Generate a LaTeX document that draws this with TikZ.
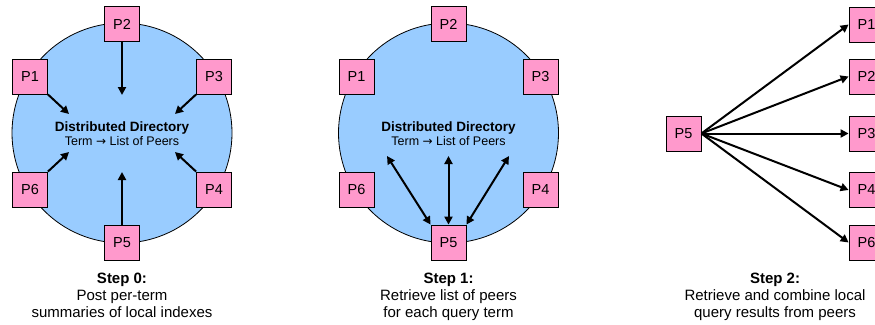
\documentclass[tikz,border=0pt]{standalone}
\usepackage{fontspec}
\setmainfont{Liberation Sans}
\newfontfamily\arrowfont{DejaVu Sans}
\usetikzlibrary{arrows.meta}
\definecolor{peerpink}{HTML}{FF99CC}
\definecolor{dirblue}{HTML}{99CCFF}
\newcommand{\maparrow}{{\arrowfont\fontsize{12}{14}\selectfont →}}
\tikzset{
  peer/.style={draw=black, fill=peerpink, minimum size=35pt, inner sep=0pt, line width=0.8pt,
    font=\fontsize{14.5}{16}\selectfont},
  directory/.style={draw=black, fill=dirblue, line width=0.8pt},
  post/.style={line width=2pt, -{Triangle[length=8pt,width=8pt]}},
  query/.style={line width=2pt, {Triangle[length=8pt,width=8pt]}-{Triangle[length=8pt,width=8pt]}},
  caption/.style={anchor=base, inner sep=0pt, font=\fontsize{15}{17}\selectfont},
  dirtitle/.style={anchor=base, inner sep=0pt, font=\fontsize{13.5}{15}\selectfont\bfseries},
  dirsub/.style={anchor=base, inner sep=0pt, font=\fontsize{12.5}{14}\selectfont}
}
\begin{document}
\begin{tikzpicture}[x=1pt, y=-1pt]
\useasboundingbox (0,0) rectangle (875,324);

% ---------- Step 0: peers post summaries ----------
\node[directory, circle, minimum size=220pt, inner sep=0pt] (dirA) at (122,133) {};
\node[dirtitle] (titleA) at (122,131) {Distributed Directory};
\node[dirsub] (subA) at (122,145) {Term \maparrow{} List of Peers};
\node[peer] (a2) at (122,24) {P2};
\node[peer] (a1) at (30,76.5) {P1};
\node[peer] (a3) at (214,76.5) {P3};
\node[peer] (a6) at (30,189.5) {P6};
\node[peer] (a4) at (214,189.5) {P4};
\node[peer] (a5) at (122,242.5) {P5};
\coordinate (t2) at (122,95);
\coordinate (t1) at (69,114);
\coordinate (t3) at (175,114);
\coordinate (t6) at (69,152);
\coordinate (t4) at (175,152);
\coordinate (t5) at (122,172);
\draw[post] (a2.south) -- (t2);
\draw[post] (a1.south east) -- (t1);
\draw[post] (a3.south west) -- (t3);
\draw[post] (a6.north east) -- (t6);
\draw[post] (a4.north west) -- (t4);
\draw[post] (a5.north) -- (t5);
\node[caption, font=\fontsize{15}{17}\selectfont\bfseries] (capA0) at (122,283) {Step 0:};
\node[caption] (capA1) at (122,300) {Post per-term};
\node[caption] (capA2) at (122,317) {summaries of local indexes};

% ---------- Step 1: retrieve peer lists ----------
\node[directory, circle, minimum size=220pt, inner sep=0pt] (dirB) at (448.5,133) {};
\node[dirtitle] (titleB) at (448.5,131) {Distributed Directory};
\node[dirsub] (subB) at (448.5,145) {Term \maparrow{} List of Peers};
\node[peer] (b2) at (448.5,24) {P2};
\node[peer] (b1) at (356.5,76.5) {P1};
\node[peer] (b3) at (540.5,76.5) {P3};
\node[peer] (b6) at (356.5,189.5) {P6};
\node[peer] (b4) at (540.5,189.5) {P4};
\node[peer] (b5) at (448.5,242.5) {P5};
\coordinate (q1) at (387,156);
\coordinate (q2) at (448.5,156);
\coordinate (q3) at (509,156);
\draw[query] (q1) -- (b5.north west);
\draw[query] (q2) -- (b5.north);
\draw[query] (q3) -- (b5.north east);
\node[caption, font=\fontsize{15}{17}\selectfont\bfseries] (capB0) at (448.5,283) {Step 1:};
\node[caption] (capB1) at (448.5,300) {Retrieve list of peers};
\node[caption] (capB2) at (448.5,317) {for each query term};

% ---------- Step 2: combine local results ----------
\node[peer] (c5) at (683.5,133.5) {P5};
\node[peer] (c1) at (866.5,24.5) {P1};
\node[peer] (c2) at (866.5,76.5) {P2};
\node[peer] (c3) at (866.5,133.5) {P3};
\node[peer] (c4) at (866.5,190) {P4};
\node[peer] (c6) at (866.5,242.5) {P6};
\foreach \p in {c1,c2,c3,c4,c6}
  \draw[post] (c5.east) -- (\p.west);
\node[caption, font=\fontsize{15}{17}\selectfont\bfseries] (capC0) at (775,283) {Step 2:};
\node[caption] (capC1) at (775,300) {Retrieve and combine local};
\node[caption] (capC2) at (775,317) {query results from peers};
\end{tikzpicture}
\end{document}
